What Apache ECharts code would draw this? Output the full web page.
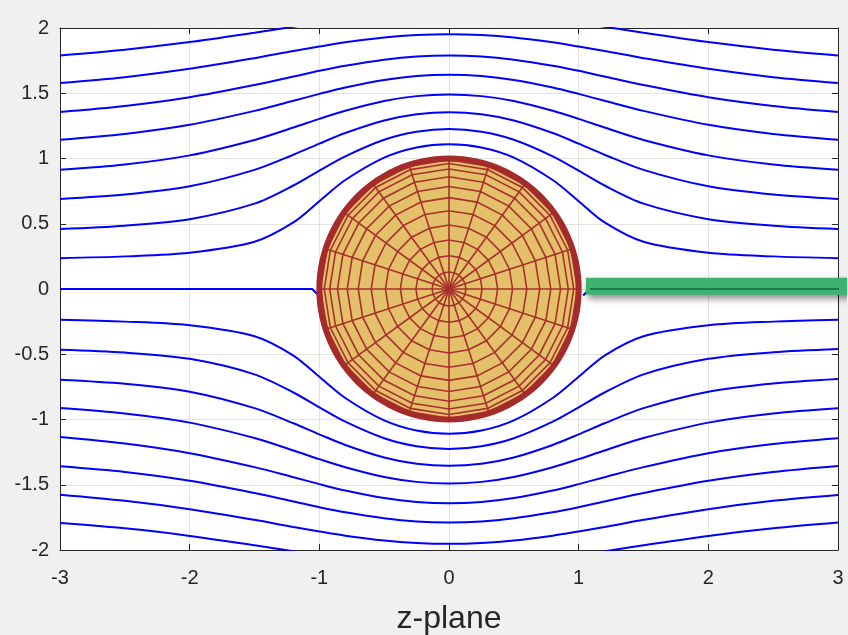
<!DOCTYPE html>
<html><head><meta charset="utf-8">
<script src="https://cdn.jsdelivr.net/npm/echarts@6/dist/echarts.min.js"></script>
<style>html,body{margin:0;padding:0;background:#f0f0f0}#c{width:848px;height:635px}</style>
</head><body><div id="c"></div>
<script>
// ---- data ----
const xs = [-3, -2.5, -2, -1.5, -1.2, -1, -0.8, -0.5, -0.25, 0, 0.25, 0.5, 0.8, 1, 1.2, 1.5, 2, 2.5, 3];

const upper1 = [0.236, 0.25, 0.278, 0.362, 0.51, 0.673, 0.835, 1.007, 1.085, 1.11, 1.085, 1.007, 0.835, 0.673, 0.51, 0.362, 0.278, 0.25, 0.236];
const upper2 = [0.46, 0.485, 0.535, 0.654, 0.793, 0.907, 1.017, 1.144, 1.205, 1.226, 1.205, 1.144, 1.017, 0.907, 0.793, 0.654, 0.535, 0.485, 0.46];
const upper3 = [0.69, 0.724, 0.787, 0.913, 1.029, 1.114, 1.195, 1.291, 1.339, 1.355, 1.339, 1.291, 1.195, 1.114, 1.029, 0.913, 0.787, 0.724, 0.69];
const upper4 = [0.914, 0.954, 1.024, 1.142, 1.237, 1.304, 1.366, 1.441, 1.478, 1.49, 1.478, 1.441, 1.366, 1.304, 1.237, 1.142, 1.024, 0.954, 0.914];
const upper5 = [1.144, 1.188, 1.258, 1.365, 1.442, 1.495, 1.544, 1.602, 1.632, 1.642, 1.632, 1.602, 1.544, 1.495, 1.442, 1.365, 1.258, 1.188, 1.144];
const upper6 = [1.356, 1.402, 1.469, 1.563, 1.628, 1.672, 1.711, 1.757, 1.782, 1.79, 1.782, 1.757, 1.711, 1.672, 1.628, 1.563, 1.469, 1.402, 1.356];
const upper7 = [1.578, 1.623, 1.687, 1.769, 1.824, 1.858, 1.89, 1.927, 1.946, 1.953, 1.946, 1.927, 1.89, 1.858, 1.824, 1.769, 1.687, 1.623, 1.578];
const upper8 = [1.79, 1.834, 1.892, 1.964, 2.01, 2.038, 2.064, 2.095, 2.11, 2.116, 2.11, 2.095, 2.064, 2.038, 2.01, 1.964, 1.892, 1.834, 1.79];

const lower1 = [-0.236, -0.25, -0.278, -0.362, -0.51, -0.673, -0.835, -1.007, -1.085, -1.11, -1.085, -1.007, -0.835, -0.673, -0.51, -0.362, -0.278, -0.25, -0.236];
const lower2 = [-0.465, -0.487, -0.535, -0.654, -0.793, -0.907, -1.017, -1.144, -1.205, -1.226, -1.205, -1.144, -1.017, -0.907, -0.793, -0.654, -0.535, -0.485, -0.46];
const lower3 = [-0.695, -0.726, -0.787, -0.913, -1.029, -1.114, -1.195, -1.291, -1.339, -1.355, -1.339, -1.291, -1.195, -1.114, -1.029, -0.913, -0.787, -0.724, -0.69];
const lower4 = [-0.912, -0.954, -1.024, -1.142, -1.237, -1.304, -1.366, -1.441, -1.478, -1.49, -1.478, -1.441, -1.366, -1.304, -1.237, -1.142, -1.024, -0.954, -0.914];
const lower5 = [-1.134, -1.184, -1.258, -1.365, -1.442, -1.495, -1.544, -1.602, -1.632, -1.642, -1.632, -1.602, -1.544, -1.495, -1.442, -1.365, -1.258, -1.188, -1.144];
const lower6 = [-1.359, -1.402, -1.469, -1.563, -1.628, -1.672, -1.711, -1.757, -1.782, -1.79, -1.782, -1.757, -1.711, -1.672, -1.628, -1.563, -1.469, -1.402, -1.356];
const lower7 = [-1.576, -1.623, -1.687, -1.769, -1.824, -1.858, -1.89, -1.927, -1.946, -1.953, -1.946, -1.927, -1.89, -1.858, -1.824, -1.769, -1.687, -1.623, -1.578];
const lower8 = [-1.793, -1.834, -1.892, -1.964, -2.01, -2.038, -2.064, -2.095, -2.11, -2.116, -2.11, -2.095, -2.064, -2.038, -2.01, -1.964, -1.892, -1.834, -1.79];

// dividing streamline (stagnation line) pieces
const centerLeft = [[-3, 0], [-1.055, 0], [-1.015, -0.04]];
const centerRight = [[1.035, -0.05], [1.085, 0], [3, 0]];
// green highlighted segment
const greenBar = [[1.056, 0.021], [3.1, 0.021]];

// cylinder (unit disc) mesh
const disc = [[0, 0, 1]];
const ringRadii = [0.13, 0.255, 0.375, 0.49, 0.6, 0.7, 0.785, 0.86, 0.92, 0.962, 0.99];
const spokeCount = 20;

const xTickLabels = ['-3', '-2', '-1', '0', '1', '2', '3'];
const yTickLabels = ['-2', '-1.5', '-1', '-0.5', '0', '0.5', '1', '1.5', '2'];

// ---- chart ----
const AX = '#262626';
const FONT = 'Liberation Sans, Arial, Helvetica, sans-serif';
const chart = echarts.init(document.getElementById('c'), null, {renderer: 'canvas'});

const streams = [upper1, upper2, upper3, upper4, upper5, upper6, upper7, upper8,
                 lower1, lower2, lower3, lower4, lower5, lower6, lower7, lower8];

const series = streams.map(arr => ({
  type: 'line',
  data: xs.map((x, i) => [x, arr[i]]),
  showSymbol: false,
  smooth: 0.3,
  clip: true,
  silent: true,
  z: 2,
  lineStyle: {color: '#0000ff', width: 2}
}));

[centerLeft, centerRight].forEach(d => series.push({
  type: 'line', data: d, showSymbol: false, clip: true, silent: true, z: 2,
  lineStyle: {color: '#0000ff', width: 2}
}));

function renderDisc(params, api) {
  const cx = api.value(0), cy = api.value(1), R = api.value(2);
  const P = (r, a) => api.coord([cx + r * Math.cos(a), cy + r * Math.sin(a)]);
  const poly = (r, n) => {
    const pts = [];
    for (let k = 0; k < n; k++) pts.push(P(r, 2 * Math.PI * k / n));
    return pts;
  };
  const meshColor = '#a8302c';
  const children = [];
  children.push({type: 'polygon', shape: {points: poly(R, 120)}, style: {fill: '#e4c06b', stroke: null}});
  ringRadii.forEach(r => children.push({
    type: 'polygon', shape: {points: poly(r * R, spokeCount)},
    style: {fill: null, stroke: meshColor, lineWidth: 1.6}
  }));
  for (let k = 0; k < spokeCount; k++) {
    const a = 2 * Math.PI * k / spokeCount;
    const p0 = P(0, a), p1 = P(R, a);
    children.push({type: 'line', shape: {x1: p0[0], y1: p0[1], x2: p1[0], y2: p1[1]},
      style: {stroke: meshColor, lineWidth: 1.6}});
  }
  children.push({type: 'polygon', shape: {points: poly(R, 120)},
    style: {fill: null, stroke: '#a52a2a', lineWidth: 6}});
  return {type: 'group', children};
}

series.push({
  type: 'custom', data: disc, renderItem: renderDisc, silent: true, z: 5, clip: false
});

series.push({
  type: 'line', data: greenBar, showSymbol: false, clip: false, silent: true, z: 8,
  lineStyle: {color: '#3cb371', width: 17, cap: 'butt',
    shadowColor: 'rgba(0,0,0,0.45)', shadowBlur: 7, shadowOffsetX: 2, shadowOffsetY: 4}
});
series.push({
  type: 'line', data: greenBar.map(p => [p[0] + 0.03, 0]), showSymbol: false, clip: false, silent: true, z: 9,
  lineStyle: {color: '#1f7a4c', width: 2}
});

const xLab = v => xTickLabels[xTickLabels.indexOf(String(v))] ?? String(v);
const yLab = v => yTickLabels[yTickLabels.indexOf(String(v))] ?? String(v);

chart.setOption({
  animation: false,
  backgroundColor: '#f0f0f0',
  grid: {left: 60, right: 10, top: 28, bottom: 85, show: true, backgroundColor: '#ffffff', borderWidth: 0,
         containLabel: false, outerBoundsMode: 'none'},
  xAxis: [{
    type: 'value', min: -3, max: 3, interval: 1, position: 'bottom',
    axisLine: {show: true, onZero: false, lineStyle: {color: AX, width: 1}},
    axisTick: {show: true, inside: true, length: 6, lineStyle: {color: AX}},
    axisLabel: {color: AX, fontSize: 20, margin: 18, fontFamily: FONT, formatter: xLab},
    splitLine: {show: true, lineStyle: {color: '#e2e2e2', width: 1}},
    name: 'z-plane', nameLocation: 'middle', nameGap: 53,
    nameTextStyle: {color: AX, fontSize: 32, fontFamily: FONT}
  }, {
    type: 'value', min: -3, max: 3, interval: 1, position: 'top',
    axisLine: {show: true, onZero: false, lineStyle: {color: AX, width: 1}},
    axisTick: {show: true, inside: true, length: 6, lineStyle: {color: AX}},
    axisLabel: {show: false}, splitLine: {show: false}
  }],
  yAxis: [{
    type: 'value', min: -2, max: 2, interval: 0.5, position: 'left',
    axisLine: {show: true, onZero: false, lineStyle: {color: AX, width: 1}},
    axisTick: {show: true, inside: true, length: 6, lineStyle: {color: AX}},
    axisLabel: {color: AX, fontSize: 20, margin: 11, fontFamily: FONT, formatter: yLab},
    splitLine: {show: true, lineStyle: {color: '#e2e2e2', width: 1}}
  }, {
    type: 'value', min: -2, max: 2, interval: 0.5, position: 'right',
    axisLine: {show: true, onZero: false, lineStyle: {color: AX, width: 1}},
    axisTick: {show: true, inside: true, length: 6, lineStyle: {color: AX}},
    axisLabel: {show: false}, splitLine: {show: false}
  }],
  series: series
});
</script>
</body></html>
